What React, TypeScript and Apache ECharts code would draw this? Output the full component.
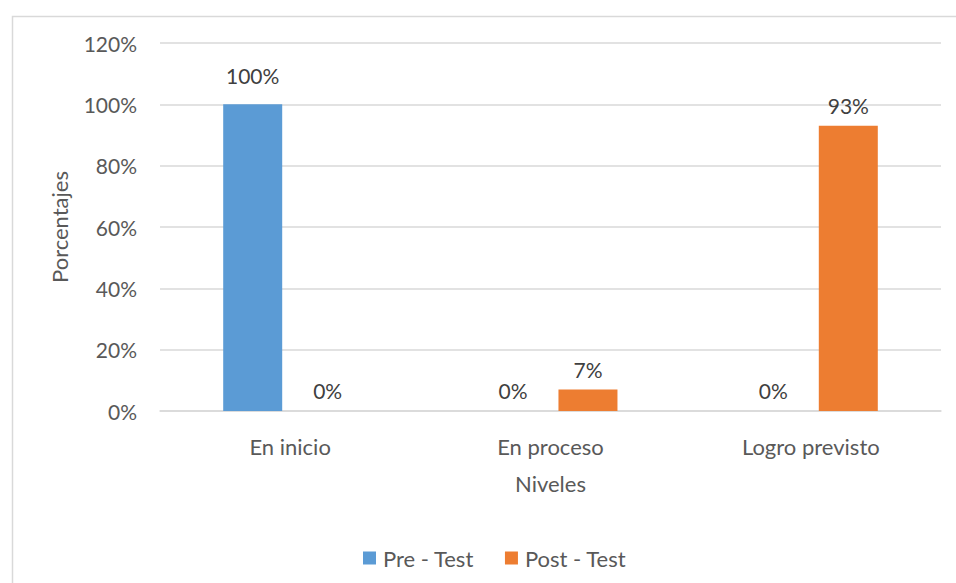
import React, { useEffect, useRef } from "react";
import * as echarts from "echarts";

const categories = ["En inicio", "En proceso", "Logro previsto"];
const preTest = [1.0, 0, 0];
const postTest = [0, 0.07, 0.93];
const seriesNames = ["Pre - Test", "Post - Test"];
const yTicks = { min: 0, max: 1.2, interval: 0.2 };

const FONT = "Lato, 'Noto Sans', sans-serif";

export default function App() {
  const ref = useRef<HTMLDivElement>(null);

  useEffect(() => {
    document.body.style.margin = "0";
    const chart = echarts.init(ref.current!, null, { renderer: "svg" });
    const pct = (v: number) => `${Math.round(v * 100)}%`;
    const labelStyle = {
      show: true,
      position: "top",
      distance: 10,
      color: "#404040",
      fontSize: 21,
      fontFamily: FONT,
      formatter: (p: any) => pct(p.value),
    };
    const preData = preTest.map((v, i) =>
      i === 0 ? { value: v, label: { distance: 18 } } : v
    );
    chart.setOption({
      animation: false,
      textStyle: { fontFamily: FONT },
      graphic: [
        {
          type: "rect",
          left: 10,
          top: 14,
          shape: { x: 0, y: 0, width: 960, height: 600 },
          style: { fill: "none", stroke: "#d9d9d9", lineWidth: 1.5 },
          silent: true,
        },
      ],
      grid: { left: 160, right: 15, top: 43, bottom: 172 },
      legend: {
        bottom: 9,
        left: 358,
        itemWidth: 13,
        itemHeight: 13,
        itemGap: 31,
        icon: "rect",
        textStyle: { color: "#595959", fontSize: 22, fontFamily: FONT, padding: [0, 0, 0, 2] },
        data: seriesNames,
      },
      xAxis: {
        type: "category",
        data: categories,
        name: "Niveles",
        nameLocation: "middle",
        nameGap: 61,
        nameTextStyle: { color: "#595959", fontSize: 22, fontFamily: FONT },
        axisLine: { show: true, lineStyle: { color: "#d9d9d9", width: 1.5 } },
        axisTick: { show: false },
        axisLabel: { color: "#595959", fontSize: 22, margin: 24, fontFamily: FONT },
      },
      yAxis: {
        type: "value",
        min: yTicks.min,
        max: yTicks.max,
        interval: yTicks.interval,
        name: "Porcentajes",
        nameLocation: "middle",
        nameGap: 90,
        nameTextStyle: { color: "#595959", fontSize: 22, fontFamily: FONT },
        axisLine: { show: false },
        axisTick: { show: false },
        axisLabel: {
          color: "#595959",
          fontSize: 21,
          margin: 23,
          fontFamily: FONT,
          formatter: (v: number) => pct(v),
        },
        splitLine: { lineStyle: { color: "#d9d9d9", width: 1.5 } },
      },
      series: [
        {
          name: seriesNames[0],
          type: "bar",
          data: preData,
          itemStyle: { color: "#5B9BD5" },
          barWidth: 59,
          barGap: "27%",
          label: labelStyle,
        },
        {
          name: seriesNames[1],
          type: "bar",
          data: postTest,
          itemStyle: { color: "#ED7D31" },
          barWidth: 59,
          barGap: "27%",
          label: labelStyle,
        },
      ],
    });
    return () => chart.dispose();
  }, []);

  return (
    <div
      ref={ref}
      style={{ position: "absolute", left: 0, top: 0, width: 956, height: 583, background: "#fff" }}
    />
  );
}
